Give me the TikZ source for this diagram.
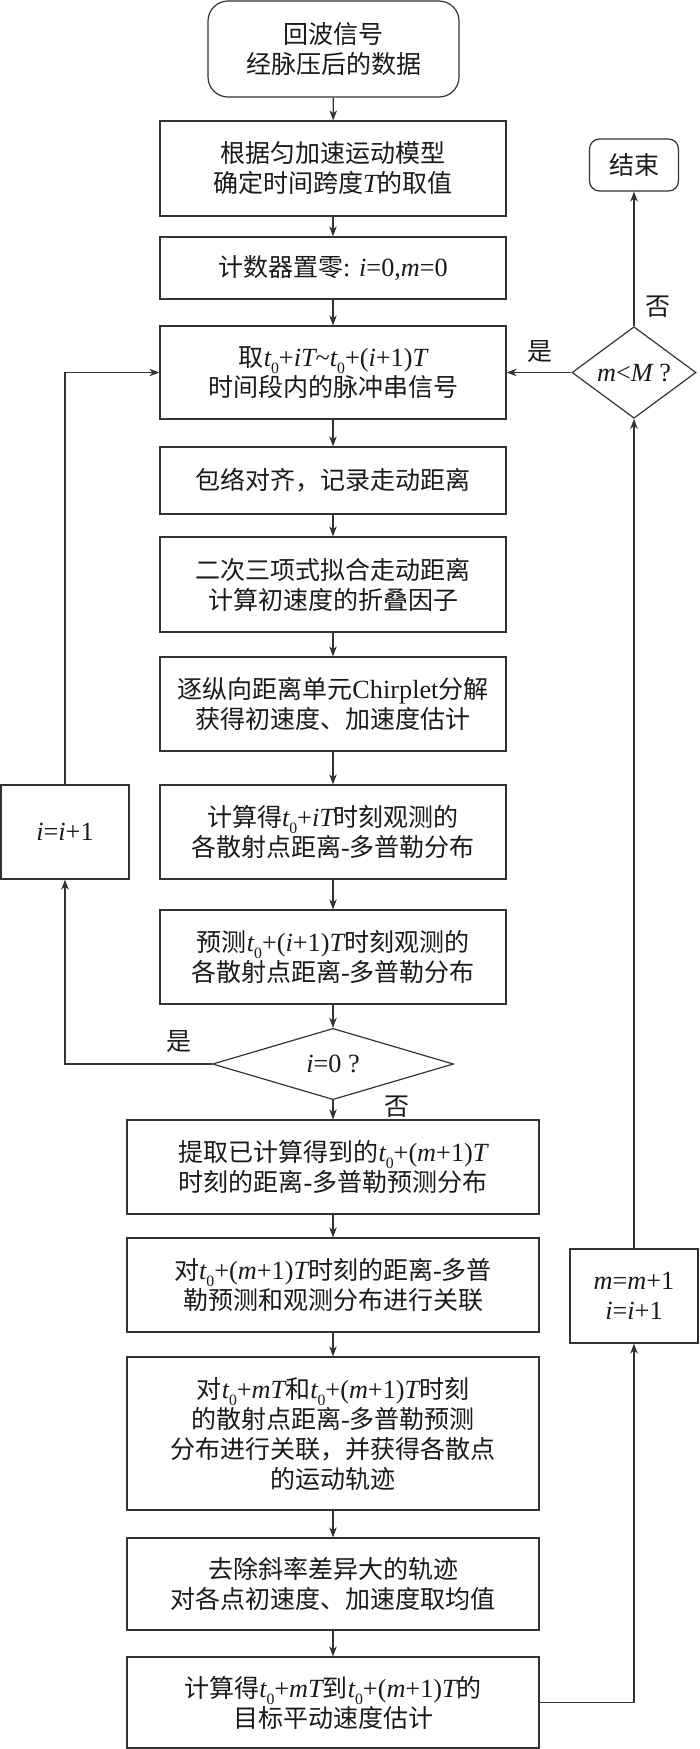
\documentclass[tikz,border=0pt]{standalone}
\usepackage{fontspec}
\setmainfont{Noto Sans CJK SC}
\newfontfamily\latf[Scale=1.05]{Liberation Serif}
\usetikzlibrary{shapes.geometric,arrows.meta}
\definecolor{ln}{HTML}{333333}
\definecolor{tx}{HTML}{1A1A1A}
\newcommand\mr[1]{{\latf #1}}
\newcommand\vi[1]{{\latf\itshape #1}}
\newcommand\sbz{\raisebox{-0.28em}{\fontsize{15}{15}\selectfont\latf 0}}
\begin{document}
\begin{tikzpicture}[x=1pt,y=-1pt,
  font=\fontsize{25}{30}\selectfont,
  every node/.style={inner sep=0pt, align=center, text=tx},
  box/.style={draw=ln, line width=1.2pt, rectangle},
  mainbox/.style={box, minimum width=346pt},
  widebox/.style={box, minimum width=412pt},
  term/.style={box, rounded corners=#1},
  dia/.style={draw=ln, line width=1.2pt, diamond},
  arr/.style={draw=ln, line width=1.2pt, -{Stealth[length=10pt,width=7.5pt,inset=3pt]}}]
\useasboundingbox (0,0) rectangle (700,1749);

\node[term=20pt, minimum width=251pt, minimum height=96pt] (start) at (333.5,49) {回波信号\\经脉压后的数据};
\node[mainbox, minimum height=95pt] (b2) at (333,168.5) {根据匀加速运动模型\\确定时间跨度\vi{T}的取值};
\node[mainbox, minimum height=62pt] (b3) at (333,268) {计数器置零\mr{: }\vi{i}\mr{=0,}\vi{m}\mr{=0}};
\node[mainbox, minimum height=93pt] (b4) at (333,372.5) {取\vi{t}\sbz\mr{+}\vi{iT}\mr{\textasciitilde}\vi{t}\sbz\mr{+(}\vi{i}\mr{+1)}\vi{T}\\时间段内的脉冲串信号};
\node[mainbox, minimum height=67pt] (b5) at (333,480.5) {包络对齐，记录走动距离};
\node[mainbox, minimum height=95pt] (b6) at (333,584.5) {二次三项式拟合走动距离\\计算初速度的折叠因子};
\node[mainbox, minimum height=94pt] (b7) at (333,704) {逐纵向距离单元\mr{Chirplet}分解\\获得初速度、加速度估计};
\node[mainbox, minimum height=94pt] (b8) at (333,832) {计算得\vi{t}\sbz\mr{+}\vi{iT}时刻观测的\\各散射点距离\mr{-}多普勒分布};
\node[mainbox, minimum height=94pt] (b9) at (333,957) {预测\vi{t}\sbz\mr{+(}\vi{i}\mr{+1)}\vi{T}时刻观测的\\各散射点距离\mr{-}多普勒分布};
\node[dia, minimum width=241pt, minimum height=59pt] (d1) at (333,1064) {\vi{i}\mr{=0 ?}};
\node[widebox, minimum height=94pt] (b10) at (333,1167) {提取已计算得到的\vi{t}\sbz\mr{+(}\vi{m}\mr{+1)}\vi{T}\\时刻的距离\mr{-}多普勒预测分布};
\node[widebox, minimum height=94pt] (b11) at (333,1285) {对\vi{t}\sbz\mr{+(}\vi{m}\mr{+1)}\vi{T}时刻的距离\mr{-}多普\\勒预测和观测分布进行关联};
\node[widebox, minimum height=153pt] (b12) at (333,1433.5) {对\vi{t}\sbz\mr{+}\vi{mT}和\vi{t}\sbz\mr{+(}\vi{m}\mr{+1)}\vi{T}时刻\\的散射点距离\mr{-}多普勒预测\\分布进行关联，并获得各散点\\的运动轨迹};
\node[widebox, minimum height=92pt] (b13) at (333,1584) {去除斜率差异大的轨迹\\对各点初速度、加速度取均值};
\node[widebox, minimum height=91pt] (b14) at (333,1702.5) {计算得\vi{t}\sbz\mr{+}\vi{mT}到\vi{t}\sbz\mr{+(}\vi{m}\mr{+1)}\vi{T}的\\目标平动速度估计};

\node[box, minimum width=128pt, minimum height=94pt] (iinc) at (65,832) {\vi{i}\mr{=}\vi{i}\mr{+1}};
\node[box, minimum width=128pt, minimum height=94pt] (minc) at (634,1296) {\vi{m}\mr{=}\vi{m}\mr{+1}\\\vi{i}\mr{=}\vi{i}\mr{+1}};
\node[dia, minimum width=124pt, minimum height=80pt] (d2) at (634,372.5) {\vi{m}\mr{<}\vi{M}\mr{ ?}};
\node[term=10pt, minimum width=89pt, minimum height=52pt] (end) at (634,165) {结束};

\draw[arr] (start) -- (b2);
\draw[arr] (b2) -- (b3);
\draw[arr] (b3) -- (b4);
\draw[arr] (b4) -- (b5);
\draw[arr] (b5) -- (b6);
\draw[arr] (b6) -- (b7);
\draw[arr] (b7) -- (b8);
\draw[arr] (b8) -- (b9);
\draw[arr] (b9) -- (d1);
\draw[arr] (d1) -- (b10);
\draw[arr] (b10) -- (b11);
\draw[arr] (b11) -- (b12);
\draw[arr] (b12) -- (b13);
\draw[arr] (b13) -- (b14);
\draw[arr] (d1.west) -| (iinc.south);
\draw[arr] (iinc.north) |- (b4.west);
\draw[arr] (b14.east) -| (minc.south);
\draw[arr] (minc) -- (d2);
\draw[arr] (d2) -- (end);
\draw[arr] (d2.west) -- (b4.east);

\node (l1) at (540,352) {是};
\node (l2) at (658,307) {否};
\node (l3) at (179,1042) {是};
\node (l4) at (397,1107) {否};
\end{tikzpicture}
\end{document}
